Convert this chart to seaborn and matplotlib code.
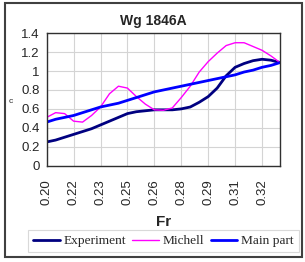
import matplotlib
matplotlib.use("Agg")
import matplotlib.pyplot as plt
import seaborn as sns
import pandas as pd
from matplotlib.patches import Rectangle

fr = [0.200, 0.205, 0.210, 0.215, 0.220, 0.225, 0.230, 0.235, 0.240,
      0.245, 0.250, 0.255, 0.260, 0.265, 0.270, 0.275, 0.280, 0.285,
      0.290, 0.295, 0.300, 0.305, 0.310, 0.315, 0.320, 0.325, 0.330]
experiment = [0.25, 0.27, 0.30, 0.33, 0.36, 0.39, 0.43, 0.47, 0.51,
              0.55, 0.57, 0.58, 0.59, 0.59, 0.59, 0.60, 0.62, 0.67,
              0.73, 0.82, 0.95, 1.04, 1.08, 1.11, 1.125, 1.115, 1.09]
michell = [0.51, 0.56, 0.55, 0.47, 0.46, 0.53, 0.62, 0.76, 0.84,
           0.82, 0.73, 0.65, 0.59, 0.585, 0.61, 0.72, 0.84, 0.99,
           1.10, 1.19, 1.27, 1.30, 1.30, 1.26, 1.22, 1.16, 1.09]
main_part = [0.46, 0.49, 0.51, 0.53, 0.56, 0.59, 0.62, 0.64, 0.66,
             0.69, 0.72, 0.75, 0.78, 0.80, 0.82, 0.84, 0.86, 0.88,
             0.90, 0.92, 0.94, 0.96, 0.99, 1.01, 1.04, 1.06, 1.09]
tick_labels = ["0.20", "0.22", "0.23", "0.25", "0.26", "0.28", "0.29", "0.31", "0.32"]
series_names = ["Experiment", "Michell", "Main part"]
title = "Wg 1846A"

sns.set_style("white")
plt.rcParams['font.family'] = ['Liberation Sans', 'DejaVu Sans']

fig = plt.figure(figsize=(3.05, 2.62), dpi=100)
ax = fig.add_axes([0.153, 0.368, 0.765, 0.505])

styles = {
    "Experiment": dict(color="#000080", lw=2.0),
    "Michell": dict(color="#FF00FF", lw=1.0),
    "Main part": dict(color="#0000FF", lw=2.0),
}
for name, vals in zip(series_names, [experiment, michell, main_part]):
    df = pd.DataFrame({"Fr": fr, "c": vals})
    sns.lineplot(data=df, x="Fr", y="c", ax=ax, label=name,
                 color=styles[name]["color"], linewidth=styles[name]["lw"])

ax.set_xlim(fr[0], fr[-1])
ax.set_ylim(0, 1.4)
ax.set_yticks([0, 0.2, 0.4, 0.6, 0.8, 1.0, 1.2, 1.4])
ax.set_yticklabels(["0", "0.2", "0.4", "0.6", "0.8", "1", "1.2", "1.4"], fontsize=9.5)
ax.set_xticks(fr[::3])
ax.set_xticklabels(tick_labels, rotation=90, fontsize=9.5)
ax.grid(True, color="#d4d4d4", linewidth=0.8)
ax.set_axisbelow(True)
for s in ax.spines.values():
    s.set_color("#303030")
    s.set_linewidth(1.0)
ax.tick_params(axis="both", direction="out", length=3, width=0.8, color="#808080", pad=2)
ax.tick_params(axis="x", pad=7)

fig.text(153.5 / 305, 1 - 21 / 262, title, fontsize=10, fontweight="bold",
         ha="center", va="center")
ax.set_xlabel("Fr", fontsize=11, fontweight="bold")
ax.xaxis.set_label_coords(0.5, -(222 - 165.7) / 132.4)
ax.xaxis.label.set_va("center")
ax.set_ylabel("c", fontsize=6, rotation=0, va="center", ha="center")
ax.yaxis.set_label_coords(-(46.7 - 10.5) / 233.3, (165.7 - 101.5) / 132.4)

ax.get_legend().remove()
handles, labels = ax.get_legend_handles_labels()
leg = fig.legend(handles, labels, loc="center", ncol=3,
                 bbox_to_anchor=(163.5 / 305, 1 - 241 / 262),
                 prop={"family": "Liberation Serif", "size": 9.6},
                 frameon=True, fancybox=False, edgecolor="#d0d0d0",
                 handlelength=2.0, handletextpad=0.3, columnspacing=0.45,
                 borderpad=0.35, borderaxespad=0)
leg.get_frame().set_linewidth(0.8)

fig.patches.append(Rectangle((4.5/305, 1 - 257/262), 297/305, 254/262,
                             transform=fig.transFigure, fill=False,
                             edgecolor="#404040", linewidth=1.5))

fig.savefig("out.png", dpi=100)
